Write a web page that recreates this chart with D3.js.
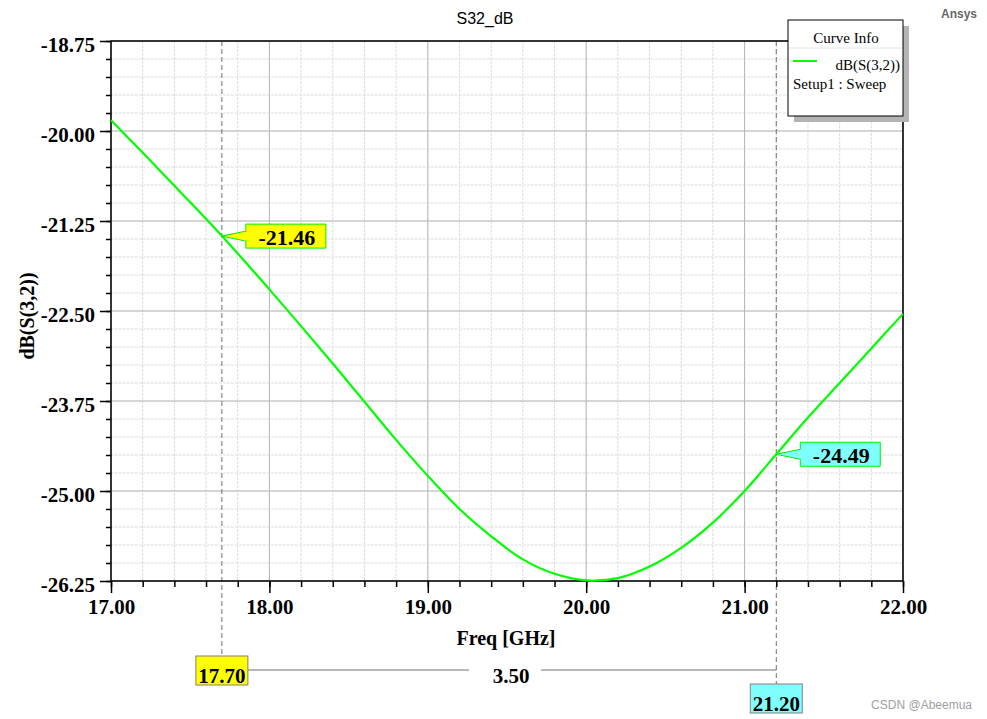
<!DOCTYPE html>
<html>
<head>
<meta charset="utf-8">
<title>S32_dB</title>
<script src="https://d3js.org/d3.v7.min.js"></script>
<style>
  body { margin: 0; background: #fff; }
  .tick text { font-family: "Liberation Serif", serif; font-weight: bold; font-size: 21px; fill: #000; }
</style>
</head>
<body>
<div id="chart"></div>
<script>
// curve values
var freq = [17.0, 17.2, 17.4, 17.6, 17.8, 18.0, 18.2, 18.4, 18.6, 18.8, 19.0, 19.2, 19.4,
            19.6, 19.8, 20.0, 20.2, 20.4, 20.6, 20.8, 21.0, 21.2, 21.4, 21.6, 21.8, 22.0];
var s32 = [-19.85, -20.30, -20.76, -21.22, -21.70, -22.20, -22.71, -23.23, -23.76, -24.29,
           -24.79, -25.25, -25.63, -25.95, -26.15, -26.24, -26.21, -26.05, -25.79, -25.44,
           -25.00, -24.49, -23.98, -23.50, -23.02, -22.54];
var xTicks = [17, 18, 19, 20, 21, 22];
var yTicks = [-18.75, -20.00, -21.25, -22.50, -23.75, -25.00, -26.25];
var markerFreq = [17.70, 21.20];
var markerVal = [-21.46, -24.49];
var markerFill = ["#ffff00", "#80ffff"];
var deltaLabel = "3.50";

var W = 987, H = 719;
var margin = {top: 41, right: 84, bottom: 138, left: 111};
var width = W - margin.left - margin.right,
    height = H - margin.top - margin.bottom;

var fmt = d => d.toFixed(2);

var svg = d3.select("#chart").append("svg")
  .attr("width", W).attr("height", H);

var x = d3.scaleLinear().domain([17, 22]).range([0, width]);
var y = d3.scaleLinear().domain([-26.25, -18.75]).range([height, 0]);

var g = svg.append("g").attr("transform", "translate(" + margin.left + "," + margin.top + ")");

// grid
var xMinor = d3.range(17, 22.001, 0.2), yMinor = d3.range(-26.25, -18.749, 0.25);
g.append("g").selectAll("line").data(xMinor).enter().append("line")
  .attr("x1", d => x(d)).attr("x2", d => x(d)).attr("y1", 0).attr("y2", height)
  .attr("stroke", "#dedede").attr("stroke-dasharray", "3,1");
g.append("g").selectAll("line").data(yMinor).enter().append("line")
  .attr("y1", d => y(d)).attr("y2", d => y(d)).attr("x1", 0).attr("x2", width)
  .attr("stroke", "#dedede").attr("stroke-dasharray", "3,1");
g.append("g").selectAll("line").data(xTicks).enter().append("line")
  .attr("x1", d => x(d)).attr("x2", d => x(d)).attr("y1", 0).attr("y2", height)
  .attr("stroke", "#b8b8b8");
g.append("g").selectAll("line").data(yTicks).enter().append("line")
  .attr("y1", d => y(d)).attr("y2", d => y(d)).attr("x1", 0).attr("x2", width)
  .attr("stroke", "#b8b8b8");

// marker lines
markerFreq.forEach(function (f, i) {
  g.append("line")
    .attr("x1", x(f)).attr("x2", x(f)).attr("y1", 0).attr("y2", i == 0 ? 615 : 643)
    .attr("stroke", "#707070").attr("stroke-dasharray", "5,3");
});

// frame
g.append("rect").attr("width", width).attr("height", height)
  .attr("fill", "none").attr("stroke", "#000").attr("stroke-width", 1.5);

// axes
g.append("g").attr("transform", "translate(0," + height + ")")
  .call(d3.axisBottom(x).tickValues(xMinor).tickSize(6).tickFormat(""))
  .call(a => a.select(".domain").remove());
g.append("g").attr("transform", "translate(0," + height + ")")
  .call(d3.axisBottom(x).tickValues(xTicks).tickSize(12).tickPadding(6).tickFormat(fmt))
  .call(a => a.select(".domain").remove());
g.append("g")
  .call(d3.axisLeft(y).tickValues(yMinor).tickSize(5).tickFormat(""))
  .call(a => a.select(".domain").remove());
g.append("g")
  .call(d3.axisLeft(y).tickValues(yTicks).tickSize(11).tickPadding(5).tickFormat(fmt))
  .call(a => a.select(".domain").remove())
  .selectAll(".tick text").attr("dy", "0.5em");
g.selectAll(".tick line").attr("stroke", "#000").attr("stroke-width", 1.5);

// curve
var line = d3.line().x((d, i) => x(freq[i])).y(d => y(d)).curve(d3.curveCatmullRom);
g.append("path").datum(s32).attr("d", line)
  .attr("fill", "none").attr("stroke", "#00ff00").attr("stroke-width", 2.2);

// value callouts
var serif = "Liberation Serif, serif";
markerFreq.forEach(function (f, i) {
  var px = x(f), py = y(markerVal[i]);
  var bx = px + 24, bw = 80, bh = 24, by = py - 12;
  g.append("path")
    .attr("d", "M" + px + "," + py + "L" + bx + "," + (by + 7) + "L" + bx + "," + by +
      "L" + (bx + bw) + "," + by + "L" + (bx + bw) + "," + (by + bh) + "L" + bx + "," + (by + bh) +
      "L" + bx + "," + (by + bh - 7) + "Z")
    .attr("fill", markerFill[i]).attr("stroke", "#00ee00").attr("stroke-width", 1);
  g.append("text").attr("x", bx + 41).attr("y", by + 21)
    .attr("text-anchor", "middle").attr("font-family", serif).attr("font-weight", "bold")
    .attr("font-size", 22).text(fmt(markerVal[i]));
});

// bottom marker labels and delta
var x0 = x(markerFreq[0]), x1 = x(markerFreq[1]);
g.append("line").attr("x1", x0).attr("x2", x1).attr("y1", 629).attr("y2", 629)
  .attr("stroke", "#707070");
g.append("rect").attr("x", (x0 + x1) / 2 - 30).attr("y", 618).attr("width", 72).attr("height", 22)
  .attr("fill", "#fff");
g.append("text").attr("x", (x0 + x1) / 2 + 12).attr("y", 642).attr("text-anchor", "middle")
  .attr("font-family", serif).attr("font-weight", "bold").attr("font-size", 21).text(deltaLabel);
var boxY = [615, 643];
markerFreq.forEach(function (f, i) {
  var bx = x(f) - 26;
  g.append("rect").attr("x", bx).attr("y", boxY[i]).attr("width", 52).attr("height", 29)
    .attr("fill", markerFill[i]).attr("stroke", "#808080");
  g.append("text").attr("x", x(f)).attr("y", boxY[i] + 27).attr("text-anchor", "middle")
    .attr("font-family", serif).attr("font-weight", "bold").attr("font-size", 21)
    .text(fmt(f));
});

// titles
svg.append("text").attr("x", 485).attr("y", 24).attr("text-anchor", "middle")
  .attr("font-family", "Liberation Sans, Arial, sans-serif").attr("font-size", 16).text("S32_dB");
svg.append("text").attr("x", 959).attr("y", 18).attr("text-anchor", "middle")
  .attr("font-family", "Liberation Sans, Arial, sans-serif").attr("font-weight", "bold")
  .attr("font-size", 12).attr("fill", "#666").text("Ansys");
svg.append("text").attr("x", margin.left + width / 2 - 1).attr("y", 645).attr("text-anchor", "middle")
  .attr("font-family", serif).attr("font-weight", "bold").attr("font-size", 20).text("Freq [GHz]");
svg.append("text").attr("transform", "translate(34,316) rotate(-90)").attr("text-anchor", "middle")
  .attr("font-family", serif).attr("font-weight", "bold").attr("font-size", 20).text("dB(S(3,2))");

// legend
var lg = svg.append("g").attr("transform", "translate(788,20)");
lg.append("rect").attr("x", 6).attr("y", 6).attr("width", 115).attr("height", 96).attr("fill", "#b4b4b4");
lg.append("rect").attr("width", 115).attr("height", 96).attr("fill", "#fff").attr("stroke", "#000");
lg.append("text").attr("x", 58).attr("y", 23).attr("text-anchor", "middle")
  .attr("font-family", serif).attr("font-size", 15).text("Curve Info");
lg.append("line").attr("x1", 1).attr("x2", 114).attr("y1", 28).attr("y2", 28).attr("stroke", "#e4e4e4");
lg.append("line").attr("x1", 5).attr("x2", 29).attr("y1", 41).attr("y2", 41)
  .attr("stroke", "#00ff00").attr("stroke-width", 2);
lg.append("text").attr("x", 112).attr("y", 50).attr("text-anchor", "end")
  .attr("font-family", serif).attr("font-size", 15).text("dB(S(3,2))");
lg.append("text").attr("x", 5).attr("y", 69)
  .attr("font-family", serif).attr("font-size", 15).text("Setup1 : Sweep");

// watermark
svg.append("text").attr("x", 972).attr("y", 709).attr("text-anchor", "end")
  .attr("font-family", "Liberation Sans, Arial, sans-serif").attr("font-size", 12)
  .attr("fill", "#a0a0a0").text("CSDN @Abeemua");
</script>
</body>
</html>
